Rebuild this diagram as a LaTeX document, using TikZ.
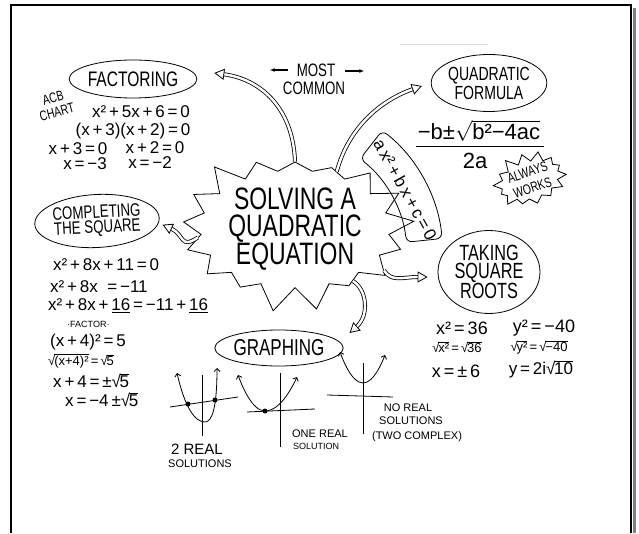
\documentclass[tikz,border=0pt]{standalone}
\usepackage{fontspec}
\setmainfont{Liberation Sans}
\newfontfamily\hand[FakeStretch=0.74]{Liberation Sans}
\usetikzlibrary{shapes.geometric,shapes.symbols,arrows.meta}
\newcommand\hsqrt[1]{√\kern-0.08em$\overline{\mbox{#1}}$}

\tikzset{
  bubble/.style={draw, thick, ellipse, inner sep=0pt, align=center},
  spiky/.style={draw, thick, starburst, align=center, inner sep=0pt},
  hollow/.style={thick, double, double distance=2.4pt, -{Triangle[open, length=10pt, width=11pt]}},
  eqn/.style={inner sep=0pt, font=\fontsize{17}{17}\selectfont},
  curve/.style={thick, {Straight Barb[length=3pt, width=6pt]}-{Straight Barb[length=3pt, width=6pt]}},
  pt/.style={circle, fill, inner sep=0pt, minimum size=5pt}
}

\begin{document}
\begin{tikzpicture}[x=1pt, y=1pt]
\useasboundingbox (0,0) rectangle (639,533);
\draw[line width=2pt] (11,0) -- (11,528) -- (631,528) -- (631,0);
\draw[gray, line width=2.5pt] (634.5,525) -- (634.5,0);
\draw[gray!30] (400,489) -- (488,489);

\node[spiky, minimum width=176pt, minimum height=150pt, starburst points=17, starburst point height=26pt, random starburst=3, font=\hand\fontsize{31}{27}\selectfont] (burst) at (295,304) {SOLVING A\\QUADRATIC\\EQUATION};

\node[bubble, minimum width=117pt, minimum height=38pt, font=\hand\fontsize{21}{21}\selectfont] (fact) at (133,454) {FACTORING};
\node[inner sep=0pt, rotate=15, align=center, font=\hand\fontsize{14}{15}\selectfont] (acb) at (55,428) {ACB\\CHART};
\node[eqn] (f1) at (141,421) {x²\,+\,5x\,+\,6\,=\,0};
\node[eqn] (f2) at (133,402) {(x\,+\,3)(x\,+\,2)\,=\,0};
\node[eqn] (f3) at (78,384) {x\,+\,3\,=\,0};
\node[eqn] (f4) at (155,385) {x\,+\,2\,=\,0};
\node[eqn] (f5) at (85,369) {x\,=\,−3};
\node[eqn] (f6) at (150,370) {x\,=\,−2};

\node[inner sep=0pt, font=\hand\fontsize{18}{18}\selectfont] (most) at (316,463) {MOST};
\node[inner sep=0pt, font=\hand\fontsize{18}{18}\selectfont] (common) at (314,445) {COMMON};
\draw[very thick, -{Latex[length=5pt]}] ([xshift=-9]most.west) -- ++(-18,0);
\draw[very thick, -{Latex[length=5pt]}] ([xshift=10,yshift=-1]most.east) -- ++(19,0);

\node[bubble, minimum width=102pt, minimum height=57pt, font=\hand\fontsize{19}{19}\selectfont] (qf) at (489,450) {QUADRATIC\\FORMULA};
\node[inner sep=0pt, font=\fontsize{22}{22}\selectfont] (num) at (479,402) {−b±$\sqrt{\mbox{b²−4ac}}$};
\node[inner sep=0pt, font=\fontsize{22}{22}\selectfont] (den) at (475,372) {2a};
\draw[thick] ([xshift=-2,yshift=-4]num.south west) -- ([xshift=4,yshift=-4]num.south east);
\node[spiky, rotate=18, minimum width=78pt, minimum height=56pt, starburst points=14, starburst point height=11pt, random starburst=11, font=\hand\fontsize{14}{16}\selectfont] (always) at (530,353) {ALWAYS\\WORKS};

\coordinate (bandc) at (285,278);
\draw[thick, rounded corners=6pt] (bandc) ++(6:122) arc[start angle=6, end angle=52, radius=122] -- ++(52:36) arc[start angle=52, end angle=6, radius=158] -- cycle;
\node[inner sep=0pt, rotate=-61, font=\fontsize{17}{17}\selectfont] (std) at ([shift={(28.5:137)}]bandc) {a\,x²\,+\,b\,x\,+\,c\,=\,0};

\node[bubble, rotate=3, minimum width=120pt, minimum height=53pt, font=\hand\fontsize{18}{15}\selectfont] (comp) at (97,312) {COMPLETING\\THE SQUARE};
\node[eqn, anchor=west] (c1) at (53,268) {x²\,+\,8x\,+\,11\,=\,0};
\node[eqn, anchor=west] (c2) at (50,246) {x²\,+\,8x\ \ =\,−11};
\node[eqn, anchor=west] (c3) at (48,227) {x²\,+\,8x\,+\,\underline{16}\,=\,−11\,+\,\underline{16}};
\node[inner sep=0pt, anchor=west, font=\fontsize{9}{9}\selectfont] (c4) at (67,209) {·FACTOR·};
\node[eqn, anchor=west] (c5) at (50,191) {(x\,+\,4)²\,=\,5};
\node[eqn, anchor=west, font=\fontsize{13}{13}\selectfont] (c6) at (48,172) {\hsqrt{(x+4)²}\,=\,\hsqrt{5}};
\node[eqn, anchor=west] (c7) at (53,152) {x\,+\,4\,=\,±\hsqrt{5}};
\node[eqn, anchor=west] (c8) at (65,133) {x\,=\,−4\,±\hsqrt{5}};

\node[bubble, minimum width=102pt, minimum height=83pt, font=\hand\fontsize{22}{18}\selectfont] (roots) at (489,261) {TAKING\\SQUARE\\ROOTS};
\node[eqn, font=\fontsize{18}{18}\selectfont] (r1) at (462,205) {x²\,=\,36};
\node[eqn, font=\fontsize{18}{18}\selectfont] (r2) at (544,205) {y²\,=\,−40};
\node[eqn, font=\fontsize{13}{13}\selectfont] (r3) at (457,186) {\hsqrt{x²}\,=\,\hsqrt{36}};
\node[eqn, font=\fontsize{13}{13}\selectfont] (r4) at (539,186) {\hsqrt{y²}\,=\,\hsqrt{−40}};
\node[eqn, font=\fontsize{18}{18}\selectfont] (r5) at (456,162) {x\,=\,±\,6};
\node[eqn, font=\fontsize{17}{17}\selectfont] (r6) at (541,164) {y\,=\,2i\hsqrt{10}};

\node[bubble, minimum width=115pt, minimum height=36pt, font=\hand\fontsize{23}{23}\selectfont] (graph) at (279,185) {GRAPHING};

\draw[thick] (170,126) -- (238,136);
\draw[thick] (202,158) -- (202,97);
\draw[curve] (177,160) .. controls (185,125) and (195,111) .. (205,111) .. controls (212,111) and (217,125) .. (217,165);
\node[pt] (p1) at (188,129) {};
\node[pt] (p2) at (215,133) {};
\node[inner sep=0pt, font=\fontsize{15}{15}\selectfont] (two) at (197,84) {2 REAL};
\node[inner sep=0pt, font=\fontsize{11}{11}\selectfont] (twosol) at (200,69) {SOLUTIONS};

\draw[thick] (247,121) -- (315,124);
\draw[thick] (280,160) -- (280,86);
\draw[curve] (238,158) parabola bend (265,122) (297,156);
\node[pt] (p3) at (265,122) {};
\node[inner sep=0pt, font=\fontsize{11}{11}\selectfont] (one) at (320,99) {ONE REAL};
\node[inner sep=0pt, font=\fontsize{9}{9}\selectfont] (onesol) at (316,87) {SOLUTION};

\draw[thick] (327,138) -- (393,136);
\draw[thick] (363,170) -- (363,99);
\draw[curve] (340,181) parabola bend (363,150) (385,178);
\node[inner sep=0pt, font=\fontsize{11}{11}\selectfont] (none) at (408,125) {NO REAL};
\node[inner sep=0pt, font=\fontsize{11}{11}\selectfont] (nonesol) at (411,112) {SOLUTIONS};
\node[inner sep=0pt, font=\fontsize{11}{11}\selectfont] (cplx) at (417,96) {(TWO COMPLEX)};

\draw[hollow] (burst.north) .. controls +(-2,55) and +(45,-6) .. ([shift={(17,6)}]fact.east);
\draw[hollow] (burst.54) .. controls +(12,45) and +(-40,-14) .. ([shift={(-9,-3)}]qf.west);
\draw[hollow] (burst.185) .. controls +(-18,-12) and +(22,-10) .. ([shift={(3,-7)}]comp.east);
\draw[hollow] (burst.-25) .. controls +(8,-12) and +(-25,0) .. ([shift={(-10,-5)}]roots.west);
\draw[hollow] (burst.-42) .. controls +(14,-8) and +(20,18) .. ([shift={(6,15)}]graph.east);
\end{tikzpicture}
\end{document}
